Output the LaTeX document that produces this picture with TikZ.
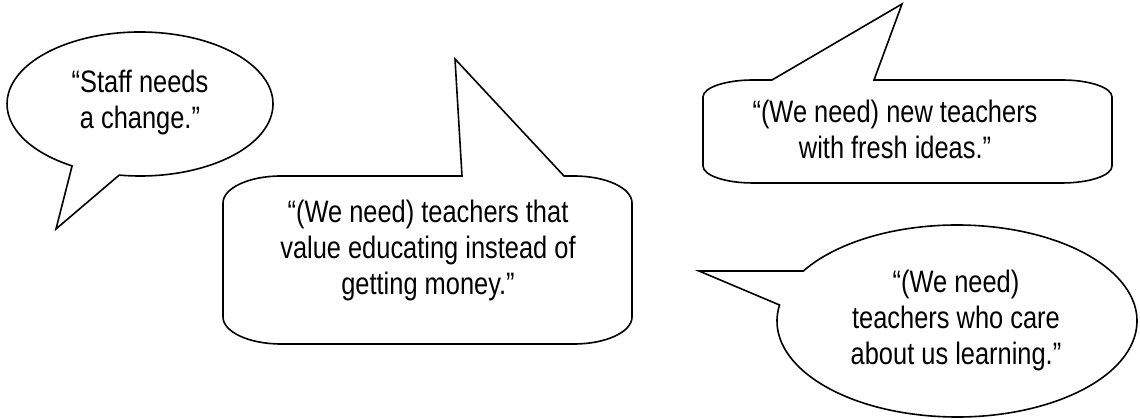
\documentclass[tikz,border=0pt]{standalone}
\usepackage{fontspec}
\setmainfont{Liberation Sans}[FakeStretch=0.82]
\usetikzlibrary{calc}

\begin{document}
\begin{tikzpicture}[x=1pt,y=1pt,line width=1.6pt,
		quote/.style={align=center,font=\fontsize{31}{36}\selectfont,inner sep=0pt}]
			%%%%% START %%%%%
			\useasboundingbox (0,0) rectangle (1140,419);
			
			% oval, top left
			\coordinate (staffc) at (140,315);
			\coordinate (stafftip) at (56,190);
			\draw ($(staffc)+(261:133 and 72)$) arc[start angle=261, end angle=599.3, x radius=133, y radius=72] -- (stafftip) -- cycle;
			\node[quote] (staff) at (140,317) {“Staff needs\\a change.”};
			
			% box, middle
			\coordinate (moneytip) at (455,360);
			\draw (462,243) -- (moneytip) -- (564,243) -- (574,243) arc[start angle=90, end angle=0, x radius=58, y radius=27]
				-- (632,102) arc[start angle=0, end angle=-90, x radius=58, y radius=27]
				-- (281,75) arc[start angle=-90, end angle=-180, x radius=58, y radius=27]
				-- (223,216) arc[start angle=180, end angle=90, x radius=58, y radius=27] -- cycle;
			\node[quote] (money) at (428,169) {“(We need) teachers that\\value educating instead of\\getting money.”};
			
			% box, top right
			\coordinate (freshtip) at (902,415);
			\draw (772,339) -- (freshtip) -- (874,339) -- (1062,339) arc[start angle=90, end angle=0, x radius=50, y radius=17]
				-- (1112,253) arc[start angle=0, end angle=-90, x radius=50, y radius=17]
				-- (753,236) arc[start angle=-90, end angle=-180, x radius=50, y radius=17]
				-- (703,322) arc[start angle=180, end angle=90, x radius=50, y radius=17] -- cycle;
			\node[quote] (fresh) at (895,290) {“(We need) new teachers\\with fresh ideas.”};
			
			% oval, bottom right
			\coordinate (carec) at (957,98);
			\coordinate (caretip) at (699,148);
			\draw ($(carec)+(170.4:180 and 96)$) arc[start angle=170.4, end angle=508.6, x radius=180, y radius=96] -- (caretip) -- cycle;
			\node[quote] (care) at (956,99) {“(We need)\\teachers who care\\about us learning.”};
			%%%%% END %%%%%
		\end{tikzpicture}
\end{document}
